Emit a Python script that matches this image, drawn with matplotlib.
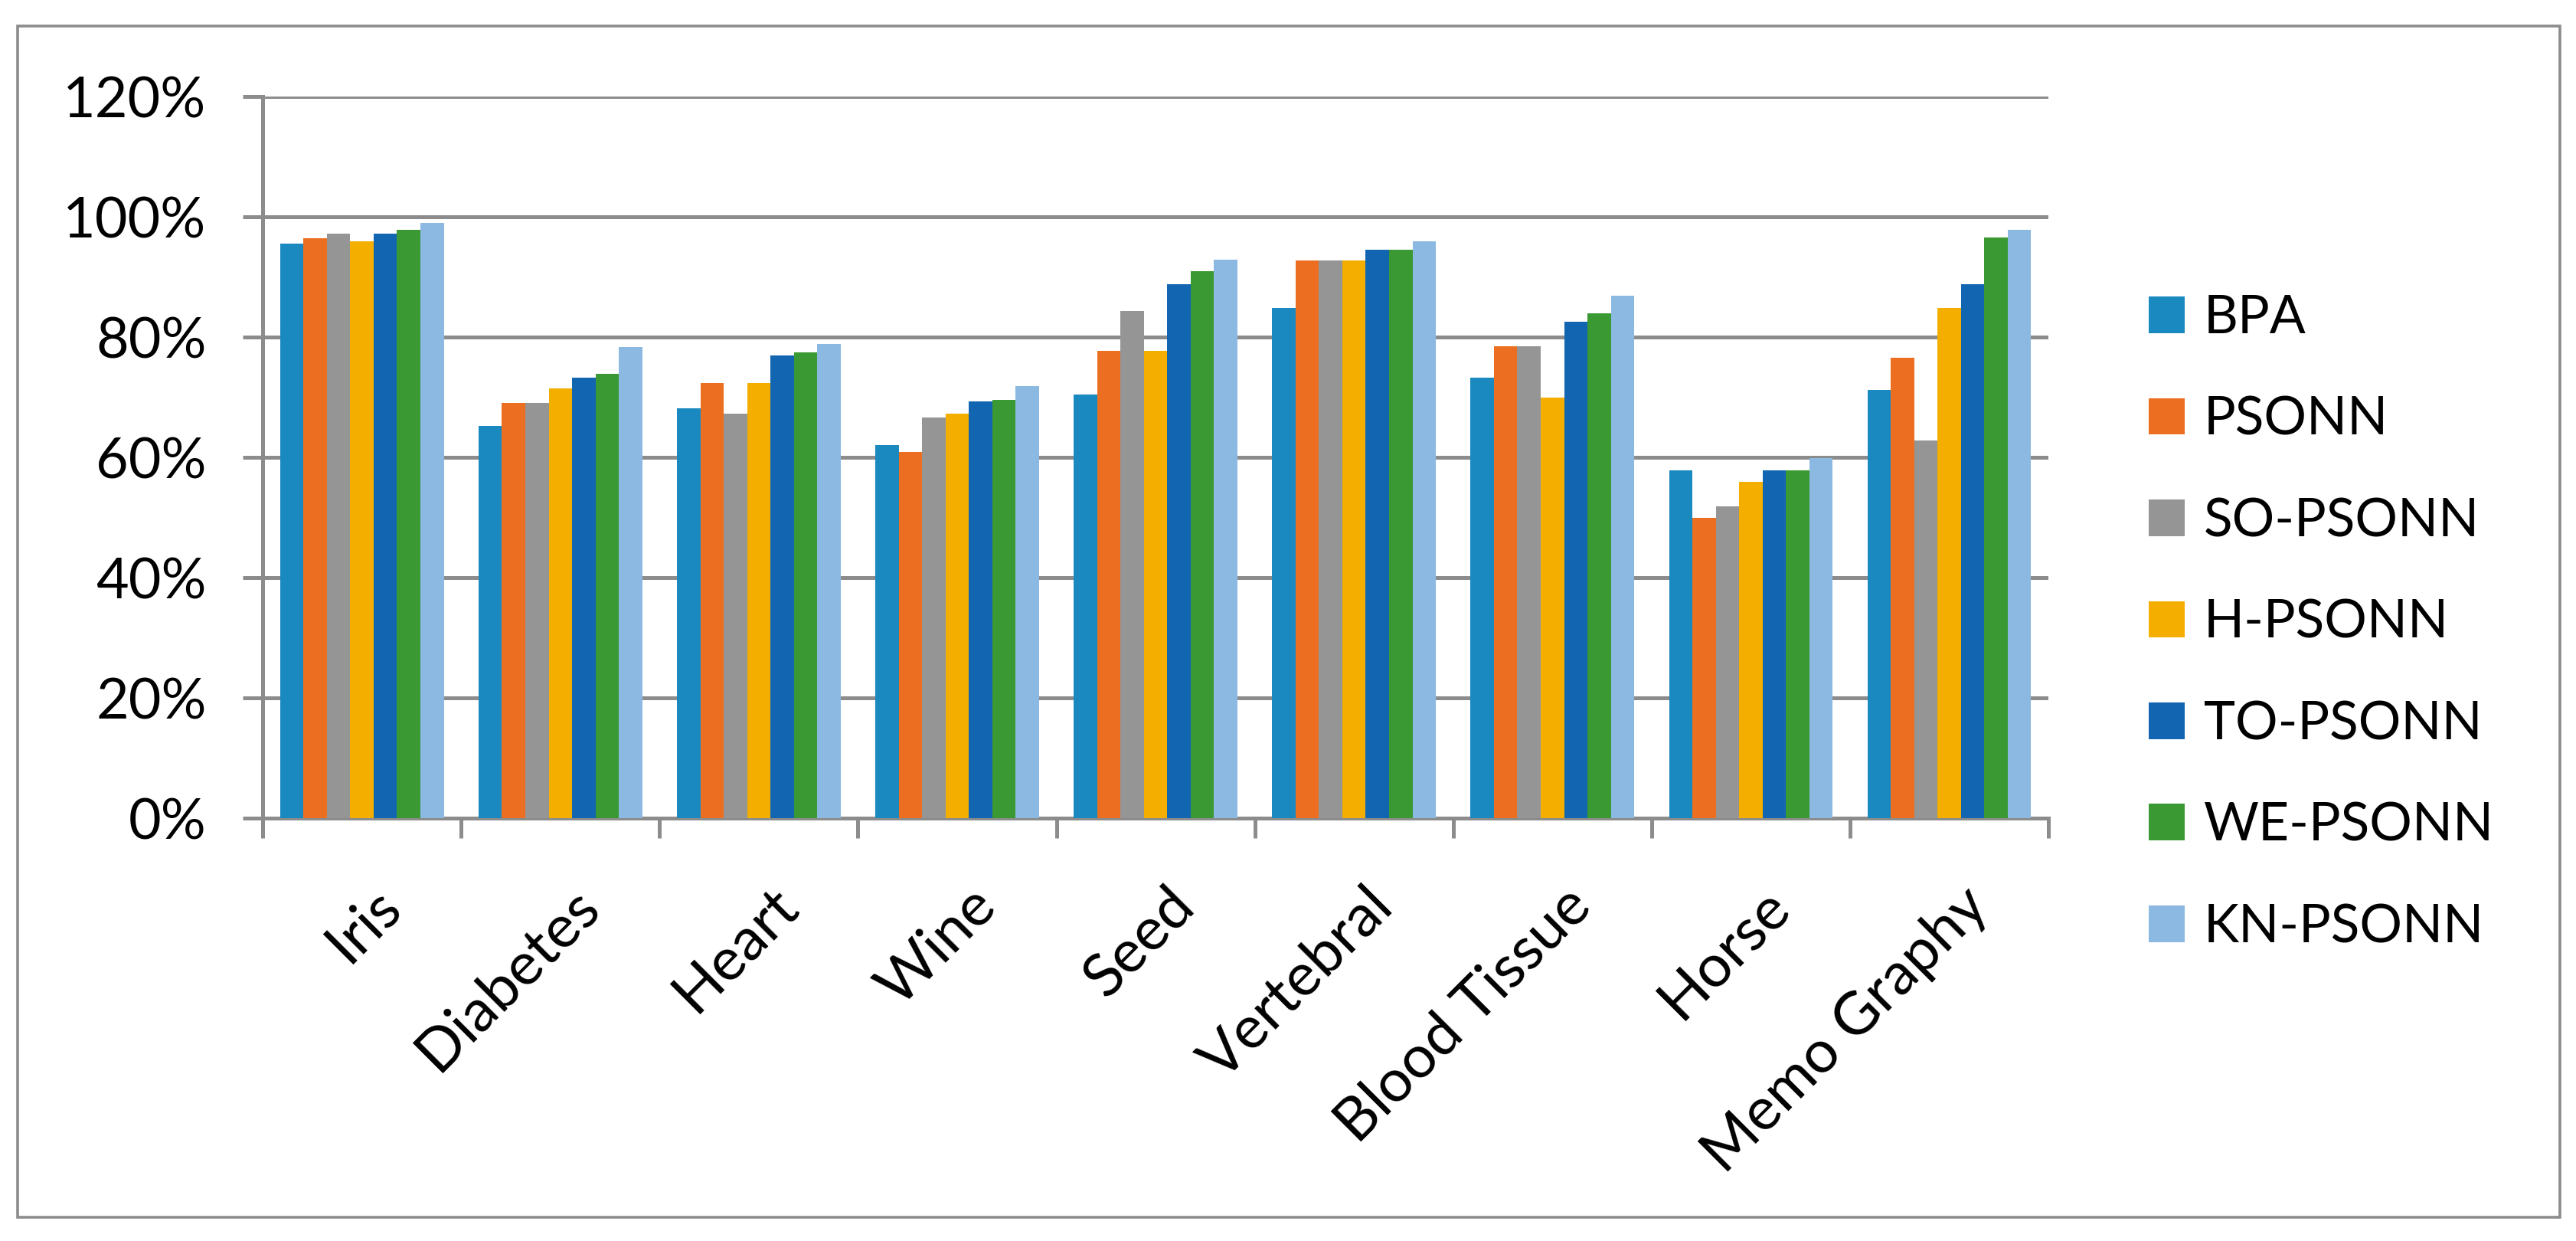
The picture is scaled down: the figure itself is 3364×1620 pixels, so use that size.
import numpy as np
import matplotlib
matplotlib.use("Agg")
import matplotlib.pyplot as plt
from matplotlib.patches import Rectangle
from matplotlib.ticker import FixedLocator, PercentFormatter
import matplotlib.transforms as mtransforms

plt.rcParams['font.family'] = ['Lato', 'DejaVu Sans']

# data (percent)
datasets = ["Iris", "Diabetes", "Heart", "Wine", "Seed", "Vertebral",
            "Blood Tissue", "Horse", "Memo Graphy"]
bpa = [95.5, 65.2, 68.2, 62.0, 70.5, 84.9, 73.3, 57.8, 71.2]
psonn = [96.4, 69.0, 72.4, 60.9, 77.7, 92.8, 78.5, 49.9, 76.6]
so_psonn = [97.2, 69.0, 67.3, 66.6, 84.4, 92.8, 78.5, 51.8, 62.8]
h_psonn = [95.9, 71.5, 72.4, 67.3, 77.7, 92.8, 69.9, 55.9, 84.9]
to_psonn = [97.2, 73.2, 76.9, 69.3, 88.8, 94.5, 82.6, 57.9, 88.8]
we_psonn = [97.9, 73.9, 77.4, 69.5, 90.9, 94.5, 83.9, 57.9, 96.6]
kn_psonn = [99.0, 78.4, 78.9, 71.9, 92.9, 95.9, 86.9, 59.9, 97.9]

series_names = ["BPA", "PSONN", "SO-PSONN", "H-PSONN", "TO-PSONN", "WE-PSONN", "KN-PSONN"]
series_vals = [bpa, psonn, so_psonn, h_psonn, to_psonn, we_psonn, kn_psonn]
colors = ['#1A89C0', '#EC6F21', '#959595', '#F3AE00', '#1265B1', '#3B9933', '#8BB9E1']

grid_grey = '#8C8C8C'
fs = 50

fig = plt.figure(figsize=(33.64, 16.2), dpi=100)
ax = fig.add_axes([0.102, 0.3407, 0.6932, 0.5815])

x = np.arange(len(datasets))
group_w = 0.825
bw = group_w / len(series_names)
for i, (name, vals, c) in enumerate(zip(series_names, series_vals, colors)):
    offs = -group_w / 2 + bw * (i + 0.5)
    ax.bar(x + offs, vals, width=bw, color=c, label=name, zorder=3)

ax.set_xlim(-0.5, len(datasets) - 0.5)
ax.set_ylim(0, 120)
ax.set_yticks(np.arange(0, 121, 20))
ax.yaxis.set_major_formatter(PercentFormatter(decimals=0))
ax.grid(axis='y', color=grid_grey, linewidth=3.6, zorder=0)

# ticks between categories, labels at category centres
ax.xaxis.set_major_locator(FixedLocator(np.arange(-0.5, len(datasets), 1.0)))
ax.xaxis.set_minor_locator(FixedLocator(x))
ax.set_xticklabels([""] * (len(datasets) + 1))
ax.set_xticklabels(datasets, minor=True, rotation=45, ha='right', va='top',
                   rotation_mode='anchor', fontsize=56)
ax.tick_params(axis='x', which='major', direction='out', length=19, width=3.6, color=grid_grey)
ax.tick_params(axis='x', which='minor', length=0, pad=56)
ax.tick_params(axis='y', direction='out', length=19, width=3.6, color=grid_grey,
               labelsize=53, pad=34)

offset = mtransforms.ScaledTranslation(14 / 100, 0, fig.dpi_scale_trans)
for lab in ax.get_xticklabels(minor=True):
    lab.set_transform(lab.get_transform() + offset)

for s in ['top', 'right']:
    ax.spines[s].set_visible(False)
for s in ['left', 'bottom']:
    ax.spines[s].set_color(grid_grey)
    ax.spines[s].set_linewidth(3.6)

ax.legend(loc='center left', bbox_to_anchor=(0.834, 0.498), bbox_transform=fig.transFigure,
          frameon=False, fontsize=fs, handlelength=0.68, handleheight=0.68,
          handletextpad=0.36, labelspacing=1.0, borderpad=0, borderaxespad=0)

# outer chart border
fig.patches.append(Rectangle((0.0068, 0.0191), 0.987, 0.9599, transform=fig.transFigure,
                             fill=False, edgecolor=grid_grey, linewidth=2.6))

fig.savefig("out.png", dpi=100)
